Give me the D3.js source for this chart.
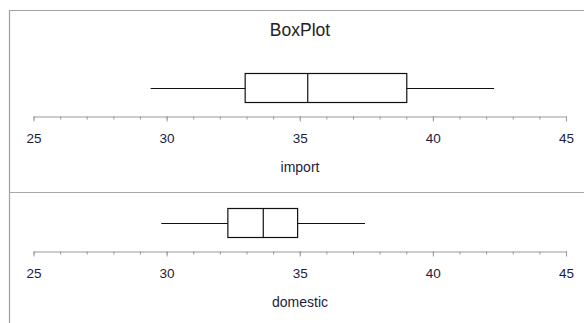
<!DOCTYPE html>
<html><head><meta charset="utf-8">
<script src="https://cdn.jsdelivr.net/npm/d3@7"></script>
<style>body{margin:0;background:#fff;}svg{display:block;font-family:"Liberation Sans",Arial,sans-serif;}</style>
</head><body>
<script>
const title = "BoxPlot";
const categories = ["import", "domestic"];
const mins = [29.4, 29.8];
const q1s = [32.95, 32.3];
const medians = [35.3, 33.63];
const q3s = [39.02, 34.92];
const maxs = [42.3, 37.45];
const majorTicks = [25, 30, 35, 40, 45];
const minorTicks = d3.range(25, 46, 1);

const W = 584, H = 323;
const svg = d3.select("body").append("svg").attr("width", W).attr("height", H);
const x = d3.scaleLinear().domain([25, 45]).range([33.5, 566]);

// frame
svg.append("path").attr("d", `M9.5,${H} V10.5 H${W}`).attr("fill", "none").attr("stroke", "#a0a0a0").attr("stroke-width", 1.2);
svg.append("line").attr("x1", 9.5).attr("x2", W).attr("y1", 192.5).attr("y2", 192.5).attr("stroke", "#a8a8a8").attr("stroke-width", 1.2);

svg.append("text").attr("x", 300).attr("y", 36).attr("text-anchor", "middle")
  .attr("font-size", 17.5).attr("fill", "#222").text(title);

const boxCenters = [88, 223];
const boxH = 29;
categories.forEach((c, i) => {
  const g = svg.append("g");
  const cy = boxCenters[i];
  const axisY = cy + 28.5;
  // whiskers
  g.append("line").attr("x1", x(mins[i])).attr("x2", x(q1s[i])).attr("y1", cy + 0.5).attr("y2", cy + 0.5).attr("stroke", "#111").attr("stroke-width", 1.2);
  g.append("line").attr("x1", x(q3s[i])).attr("x2", x(maxs[i])).attr("y1", cy + 0.5).attr("y2", cy + 0.5).attr("stroke", "#111").attr("stroke-width", 1.2);
  g.append("rect").attr("x", x(q1s[i])).attr("y", cy - boxH / 2).attr("width", x(q3s[i]) - x(q1s[i])).attr("height", boxH)
    .attr("fill", "#fff").attr("stroke", "#111").attr("stroke-width", 1.2);
  g.append("line").attr("x1", x(medians[i])).attr("x2", x(medians[i])).attr("y1", cy - boxH / 2).attr("y2", cy + boxH / 2).attr("stroke", "#111").attr("stroke-width", 1.2);

  // minor axis
  const minor = g.append("g").attr("transform", `translate(0,${axisY})`)
    .call(d3.axisBottom(x).tickValues(minorTicks).tickSize(3).tickSizeOuter(0).tickFormat(""));
  minor.select(".domain").attr("stroke", "#999");
  minor.selectAll(".tick line").attr("stroke", "#999");
  const major = g.append("g").attr("transform", `translate(0,${axisY})`)
    .call(d3.axisBottom(x).tickValues(majorTicks).tickSize(5).tickSizeOuter(0).tickPadding(12).tickFormat(d3.format("d")));
  major.select(".domain").remove();
  major.selectAll(".tick line").attr("stroke", "#999");
  major.selectAll(".tick text").attr("font-size", 13.5).attr("fill", "#1c1c3c")
    .attr("font-family", '"Liberation Sans",Arial,sans-serif');

  g.append("text").attr("x", 300).attr("y", axisY + 55.5).attr("text-anchor", "middle")
    .attr("font-size", 14).attr("fill", "#1c1c3c").text(c);
});
</script>
</body></html>
